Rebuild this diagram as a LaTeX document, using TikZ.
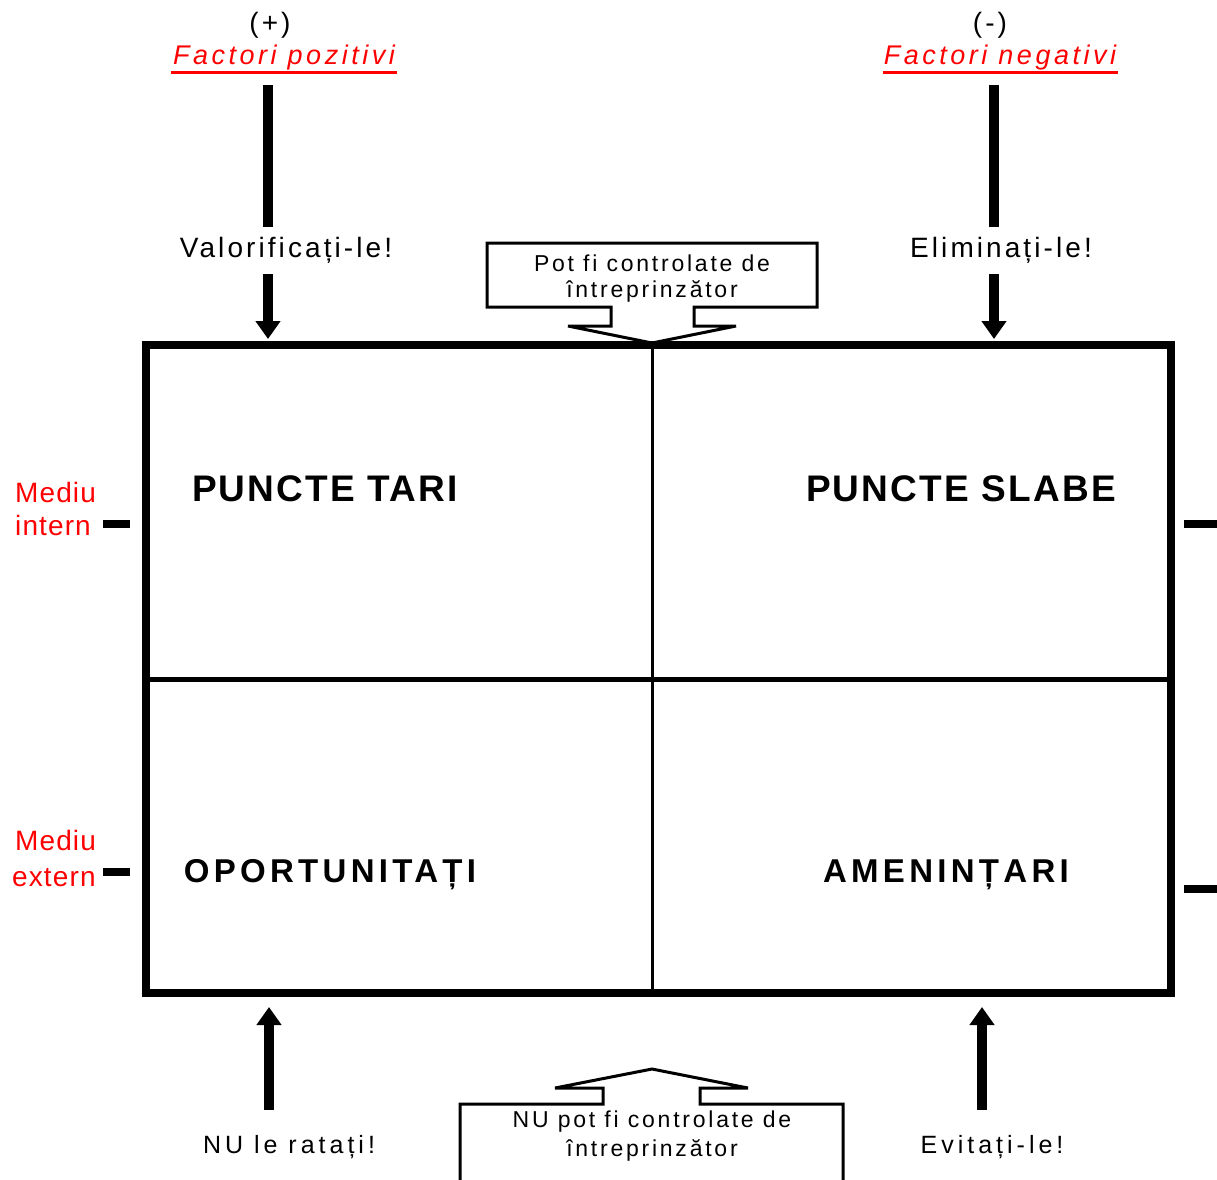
\documentclass[tikz,border=0pt]{standalone}
\usepackage{fontspec}
\setmainfont{Liberation Sans}
\usetikzlibrary{arrows.meta,calc}
\definecolor{lblred}{RGB}{255,0,0}
\begin{document}
\begin{tikzpicture}[x=1pt,y=-1pt,
  small/.style={font=\fontsize{28}{30}\selectfont\addfontfeature{LetterSpace=11}, inner sep=0pt},
  lowtxt/.style={font=\fontsize{25}{27}\selectfont\addfontfeature{LetterSpace=16}, inner sep=0pt},
  boxtxt/.style={font=\fontsize{23}{25}\selectfont\addfontfeature{LetterSpace=12}, inner sep=0pt},
  quad/.style={font=\bfseries\fontsize{37}{40}\selectfont\addfontfeature{LetterSpace=6}, inner sep=0pt},
  quadlow/.style={font=\bfseries\fontsize{33}{36}\selectfont\addfontfeature{LetterSpace=13}, inner sep=0pt},
  redlbl/.style={font=\fontsize{28}{30}\selectfont\addfontfeature{LetterSpace=4}, text=lblred, inner sep=0pt, anchor=west},
  factor/.style={font=\itshape\fontsize{27}{29}\selectfont\addfontfeature{LetterSpace=13}, text=lblred, inner sep=0pt},
  bar/.style={line width=10pt},
  arr/.style={line width=10pt, -{Triangle[width=24pt,length=18pt]}},
  tick/.style={line width=8pt},
  callout/.style={line width=3pt, line join=miter}]
\useasboundingbox (0,0) rectangle (1217,1179);

% matrix frame and dividers
\draw[line width=8pt] (146,345) rectangle (1171,993);
\draw[line width=5pt] (146,679) -- (1171,679);
\draw[line width=3pt] (652,345) -- (652,993);

% quadrant titles
\node[quad] (st) at (325,489) {PUNCTE TARI};
\node[quad] (sl) at (961,489) {PUNCTE SLABE};
\node[quadlow] (op) at (330,875) {OPORTUNITAȚI};
\node[quadlow] (am) at (946,875) {AMENINȚARI};

% side labels and ticks
\node[redlbl] (mi1) at (15,492) {Mediu};
\node[redlbl] (mi2) at (15,525) {intern};
\node[redlbl] (me1) at (15,840) {Mediu};
\node[redlbl] (me2) at (12,878) {extern};
\draw[tick] (103,524) -- (130,524);
\draw[tick] (103,872) -- (130,872);
\draw[tick] (1184,524) -- (1217,524);
\draw[tick] (1184,889) -- (1217,889);

% positive factors column
\node[small] (plus) at (270,25) {(+)};
\node[factor] (fp) at (284,58) {Factori pozitivi};
\draw[lblred, line width=3pt] (171,72) -- (397,72);
\node[small] (val) at (286,250) {Valorificați-le!};
\coordinate (pA) at (268,85);
\coordinate (pB) at (268,227);
\coordinate (pC) at (268,274);
\coordinate (pD) at (268,339);
\draw[bar] (pA) -- (pB);
\draw[arr] (pC) -- (pD);

% negative factors column
\node[small] (minus) at (990,25) {(-)};
\node[factor] (fn) at (1000,58) {Factori negativi};
\draw[lblred, line width=3pt] (883,72) -- (1118,72);
\node[small] (eli) at (1001,250) {Eliminați-le!};
\coordinate (nA) at (994,85);
\coordinate (nB) at (994,227);
\coordinate (nC) at (994,274);
\coordinate (nD) at (994,339);
\draw[bar] (nA) -- (nB);
\draw[arr] (nC) -- (nD);

% bottom arrows
\node[lowtxt] (rat) at (289,1147) {NU le ratați!};
\node[lowtxt] (evi) at (992,1147) {Evitați-le!};
\coordinate (bA) at (269,1110);
\coordinate (bB) at (269,1007);
\coordinate (cA) at (982,1110);
\coordinate (cB) at (982,1007);
\draw[arr] (bA) -- (bB);
\draw[arr] (cA) -- (cB);

% upper callout
\draw[callout] (487,243) -- (817,243) -- (817,307) -- (694,307) -- (694,326)
  -- (736,326) -- (652,343) -- (568,326) -- (611,326) -- (611,307) -- (487,307) -- cycle;
\node[boxtxt] (ctl1) at (652,263) {Pot fi controlate de};
\node[boxtxt] (ctl2) at (652,291) {întreprinzător};

% lower callout
\draw[callout] (460,1185) -- (460,1104) -- (603,1104) -- (603,1088) -- (555,1088)
  -- (652,1069) -- (748,1088) -- (700,1088) -- (700,1104) -- (843,1104) -- (843,1185);
\node[boxtxt] (nc1) at (652,1122) {NU pot fi controlate de};
\node[boxtxt] (nc2) at (652,1150) {întreprinzător};
\end{tikzpicture}
\end{document}
